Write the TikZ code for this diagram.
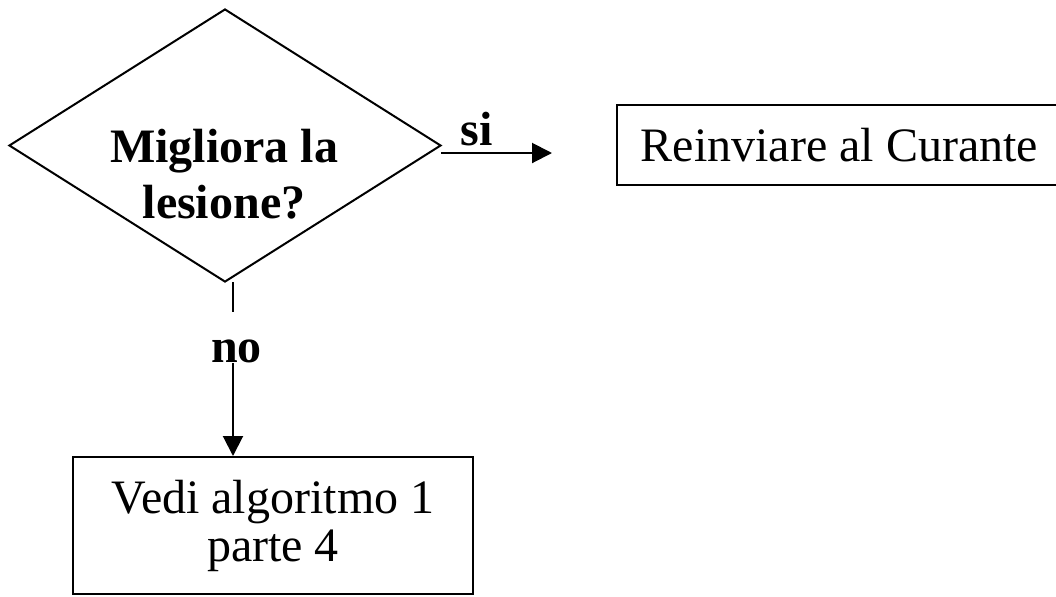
\documentclass[tikz,border=0pt]{standalone}
\usepackage{fontspec}
\setmainfont{Liberation Serif}
\usetikzlibrary{shapes.geometric,arrows.meta}
\begin{document}
\begin{tikzpicture}[x=0.5pt,y=-0.5pt,
  line width=1pt,
  box/.style={draw, line width=1pt, inner sep=0pt, font=\fontsize{24}{24}\selectfont, align=center},
  dec/.style={draw, diamond, line width=1pt, minimum width=216pt, minimum height=136.5pt, inner sep=0pt},
  qtext/.style={font=\fontsize{24}{28}\selectfont\bfseries, align=center, inner sep=0pt},
  lbl/.style={font=\fontsize{24}{24}\selectfont\bfseries, inner sep=0pt},
  arr/.style={-{Triangle[length=10pt,width=10pt]}, line width=1pt}
]
\useasboundingbox (0,0) rectangle (1056,596);
% decision
\node[dec] (d) at (225,145.5) {};
\node[qtext] (q) at (224,174) {Migliora la\\lesione?};
% boxes
\node[box, minimum width=222.5pt, minimum height=40pt] (r) at (839.5,145) {Reinviare al Curante};
\node[box, minimum width=200pt, minimum height=68.5pt] (v) at (273,525.5) {Vedi algoritmo 1\\parte 4};
% yes branch
\coordinate (s1) at (441,153);
\coordinate (s2) at (552,153);
\draw[arr] (s1) -- (s2);
\node[lbl, anchor=base] (si) at (477,145) {si};
% no branch
\coordinate (n0) at (233,282);
\node[lbl, anchor=base, text height=24.5pt, text depth=0pt] (no) at (236.5,362) {no};
\draw (n0) -- (n0 |- no.north);
\draw[arr] (n0 |- no.south) -- (n0 |- v.north);
\end{tikzpicture}
\end{document}
